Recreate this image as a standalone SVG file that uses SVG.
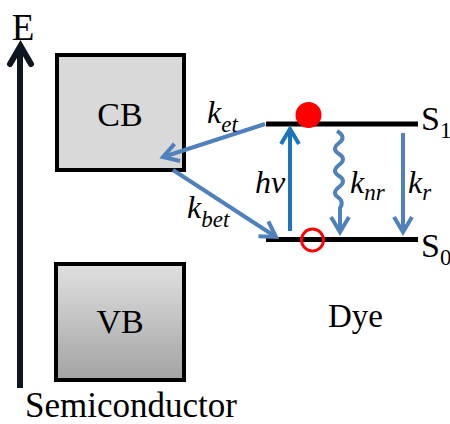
<svg xmlns="http://www.w3.org/2000/svg" width="450" height="424" viewBox="0 0 450 424">
  <style>
    .box { stroke: #000; stroke-width: 4; }
    .lvl { stroke: #000; stroke-width: 5; }
    .arr { fill: none; stroke: #4f81bd; stroke-width: 4; }
  </style>
  <defs>
    <linearGradient id="vbg" x1="0" y1="0" x2="0" y2="1">
      <stop offset="0" stop-color="#e0e0e0"/>
      <stop offset="1" stop-color="#a3a3a3"/>
    </linearGradient>
    <marker id="ah" markerUnits="userSpaceOnUse" markerWidth="40" markerHeight="40" refX="0" refY="0" orient="auto" overflow="visible">
      <path d="M-15,-9 L0,0 L-15,9" fill="none" stroke="#4f81bd" stroke-width="4"/>
    </marker>
    <marker id="ahd" markerUnits="userSpaceOnUse" markerWidth="40" markerHeight="40" refX="0" refY="0" orient="auto" overflow="visible">
      <path d="M-15,-9 L0,0 L-15,9" fill="none" stroke="#1b75bc" stroke-width="4"/>
    </marker>
  </defs>

  <g id="energy-axis">
    <line x1="20" y1="388" x2="20" y2="48" stroke="#0d1621" stroke-width="6"/>
    <path d="M10,64 L20.5,46 L31,64" fill="none" stroke="#0d1621" stroke-width="6" stroke-linecap="round"/>
  </g>

  <g id="CB">
    <rect class="box" x="57" y="55" width="127" height="115" fill="#d9d9d9"/>
  </g>

  <g id="VB">
    <rect class="box" x="56" y="264" width="128" height="116" fill="url(#vbg)"/>
  </g>

  <g id="S1">
    <line class="lvl" x1="266" y1="124" x2="418" y2="124"/>
    <circle cx="308.5" cy="115" r="13" fill="#ff0000"/>
  </g>

  <g id="S0">
    <line class="lvl" x1="266" y1="239.5" x2="418" y2="239.5"/>
    <circle cx="312.5" cy="240" r="11" fill="none" stroke="#ff0000" stroke-width="3"/>
  </g>

  <g id="connectors">
    <line class="arr" x1="265" y1="124" x2="163" y2="157" marker-end="url(#ah)"/>
    <line class="arr" x1="173" y1="170" x2="276" y2="237" marker-end="url(#ah)"/>
    <line x1="290" y1="231" x2="290" y2="129" fill="none" stroke="#1b75bc" stroke-width="4" marker-end="url(#ahd)"/>
    <path class="arr" d="M337,131 Q347,137 339,143 Q331,149 339,154 Q347,159 339,165 Q331,171 339,176 Q347,181 339,187 Q331,193 339,198 Q344,202 340,208 L340,232" marker-end="url(#ah)"/>
    <line class="arr" x1="403" y1="133" x2="403" y2="232" marker-end="url(#ah)"/>
  </g>

  <g id="texts">
    <text x="23" y="40" font-size="37" text-anchor="middle" font-family="Times New Roman, Liberation Serif, serif">E</text>
    <text x="120" y="126" font-size="34" text-anchor="middle" font-family="Times New Roman, Liberation Serif, serif">CB</text>
    <text x="120" y="333" font-size="34" text-anchor="middle" font-family="Times New Roman, Liberation Serif, serif">VB</text>
    <text x="25" y="417" font-size="35" font-family="Times New Roman, Liberation Serif, serif">Semiconductor</text>
    <text x="421" y="130" font-size="34" font-family="Times New Roman, Liberation Serif, serif">S<tspan dy="8" font-size="23">1</tspan></text>
    <text x="421" y="257" font-size="34" font-family="Times New Roman, Liberation Serif, serif">S<tspan dy="8" font-size="23">0</tspan></text>
    <text x="328" y="327" font-size="33" font-family="Times New Roman, Liberation Serif, serif">Dye</text>
    <text x="207" y="123" font-size="32" font-style="italic" font-family="Times New Roman, Liberation Serif, serif">k<tspan dy="9" font-size="23">et</tspan></text>
    <text x="187" y="218" font-size="32" font-style="italic" font-family="Times New Roman, Liberation Serif, serif">k<tspan dy="9" font-size="23">bet</tspan></text>
    <text x="255" y="193" font-size="32" font-style="italic" font-family="Times New Roman, Liberation Serif, serif">hv</text>
    <text x="350" y="193" font-size="32" font-style="italic" font-family="Times New Roman, Liberation Serif, serif">k<tspan dy="7" font-size="23">nr</tspan></text>
    <text x="408" y="193" font-size="32" font-style="italic" font-family="Times New Roman, Liberation Serif, serif">k<tspan dy="7" font-size="23">r</tspan></text>
  </g>
</svg>
